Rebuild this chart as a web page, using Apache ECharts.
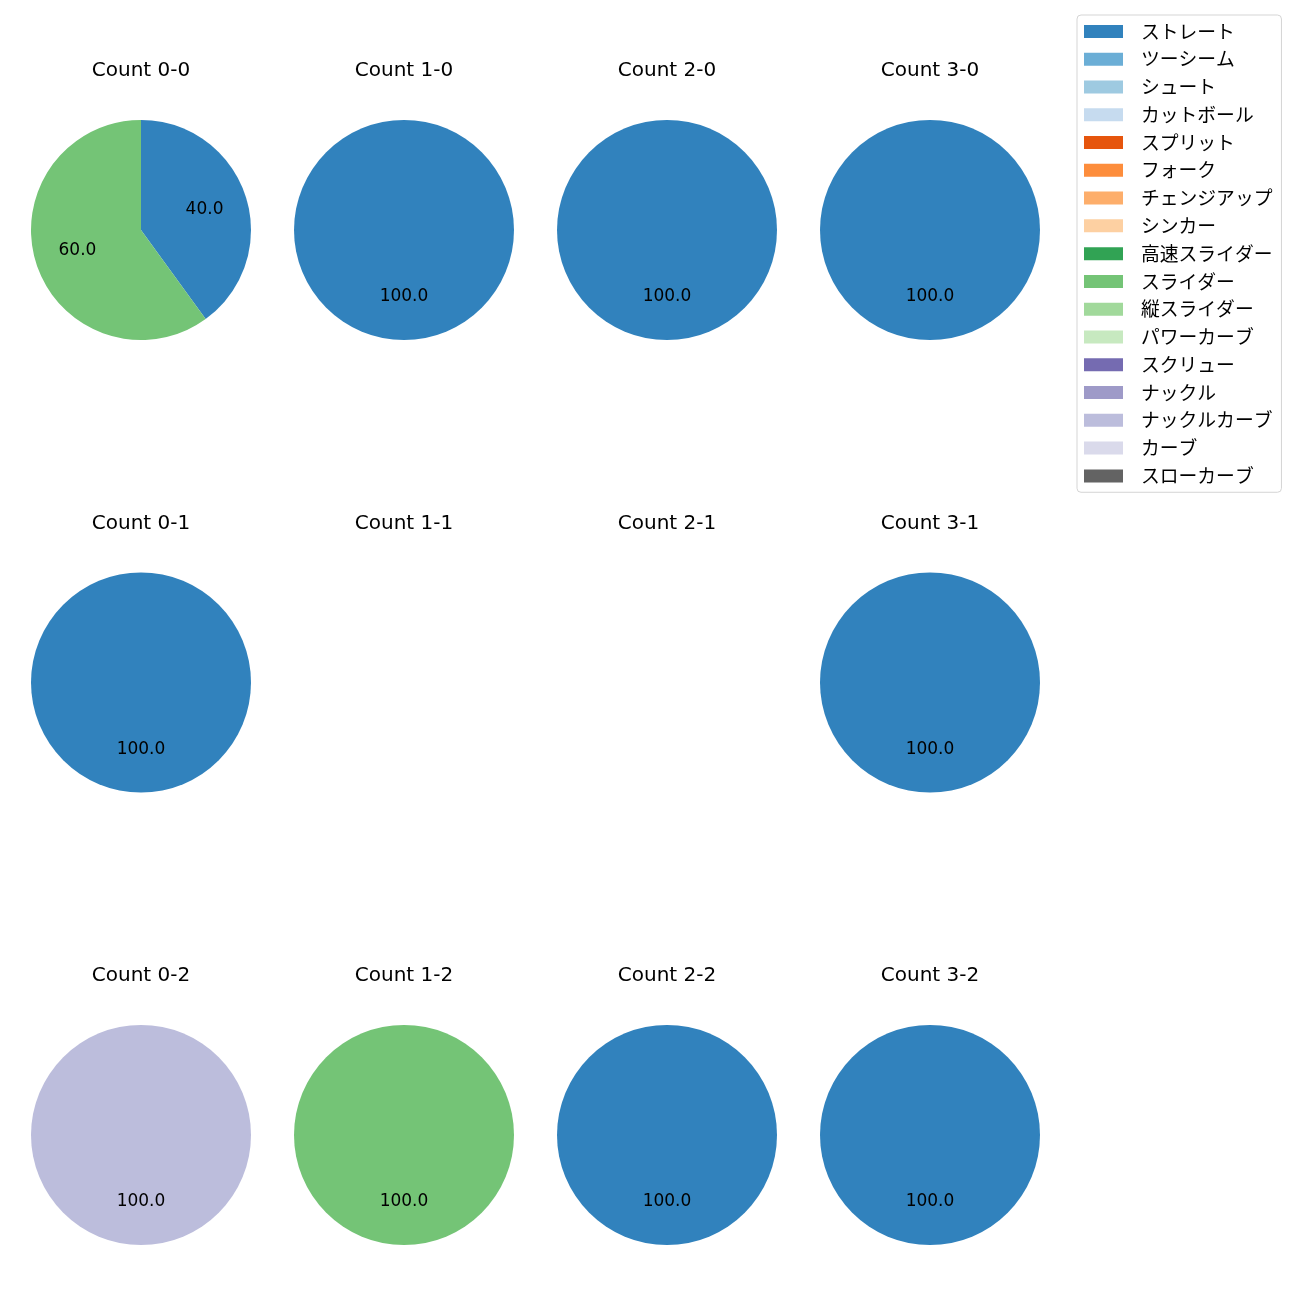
<!DOCTYPE html>
<html><head><meta charset="utf-8">
<script src="https://cdn.jsdelivr.net/npm/echarts@6/dist/echarts.min.js"></script>
<style>html,body{margin:0;padding:0;background:#fff}#c{width:1300px;height:1300px}</style>
</head><body><div id="c"></div>
<script>
const pitchTypes = ['ストレート','ツーシーム','シュート','カットボール','スプリット','フォーク','チェンジアップ','シンカー','高速スライダー','スライダー','縦スライダー','パワーカーブ','スクリュー','ナックル','ナックルカーブ','カーブ','スローカーブ'];
const pitchColors = ['#3182bd','#6baed6','#9ecae1','#c6dbef','#e6550d','#fd8d3c','#fdae6b','#fdd0a2','#31a354','#74c476','#a1d99b','#c7e9c0','#756bb1','#9e9ac8','#bcbddc','#dadaeb','#636363'];
const countTitles = ['Count 0-0','Count 1-0','Count 2-0','Count 3-0','Count 0-1','Count 1-1','Count 2-1','Count 3-1','Count 0-2','Count 1-2','Count 2-2','Count 3-2'];
const count00 = [['ストレート',40],['スライダー',60]];
const count10 = [['ストレート',100]];
const count20 = [['ストレート',100]];
const count30 = [['ストレート',100]];
const count01 = [['ストレート',100]];
const count11 = [];
const count21 = [];
const count31 = [['ストレート',100]];
const count02 = [['ナックルカーブ',100]];
const count12 = [['スライダー',100]];
const count22 = [['ストレート',100]];
const count32 = [['ストレート',100]];
const countData = [count00,count10,count20,count30,count01,count11,count21,count31,count02,count12,count22,count32];

const FONT = '"Noto Sans CJK JP","Noto Sans",sans-serif';
const LFONT = '"DejaVu Sans",sans-serif';
const colX = [141, 404, 667, 930];
const rowY = [230, 682.5, 1135];
const R = 110;
const colorOf = n => pitchColors[pitchTypes.indexOf(n)];

const series = [];
const graphic = [];
countData.forEach((d, i) => {
  const cx = colX[i % 4], cy = rowY[Math.floor(i / 4)];
  const data = d.map(([n, v]) => ({name: n, value: v, itemStyle: {color: colorOf(n)}}));
  graphic.push({type: 'text', x: cx, y: cy - 159, style: {text: countTitles[i], fill: '#000', font: '20px ' + LFONT, textAlign: 'center', textVerticalAlign: 'middle'}, silent: true});
  if (!data.length) return;
  series.push({type: 'pie', center: [cx, cy], radius: [0, R], startAngle: 90, clockwise: true, animation: false,
    data: data, label: {show: false}, labelLine: {show: false}, emphasis: {disabled: true}, silent: true});
  const tot = d.reduce((s, x) => s + x[1], 0);
  series.push({type: 'pie', center: [cx, cy], radius: [0.16 * R, R], startAngle: 90, clockwise: true, animation: false,
    legendHoverLink: false,
    data: d.map(([n, v]) => ({name: n, value: v, itemStyle: {color: 'rgba(0,0,0,0)'}})),
    label: {show: true, position: 'inside', color: '#000', fontSize: 17, fontFamily: LFONT,
      formatter: p => (p.value / tot * 100).toFixed(1)},
    labelLine: {show: false}, emphasis: {disabled: true}, silent: true});
});
// legend source: invisible zero-radius pie holding all categories
series.push({type: 'pie', center: [0, 0], radius: [0, 0], silent: true, animation: false,
  label: {show: false}, labelLine: {show: false},
  data: pitchTypes.map(n => ({name: n, value: 1, itemStyle: {color: colorOf(n)}}))});

const chart = echarts.init(document.getElementById('c'), null, {renderer: 'canvas'});
chart.setOption({
  backgroundColor: '#fff',
  animation: false,
  legend: {
    data: pitchTypes, orient: 'vertical', left: 1077, top: 15,
    itemWidth: 39, itemHeight: 13, itemGap: 9, icon: 'rect',
    padding: [7, 9, 7, 7],
    borderColor: '#d5d5d5', borderWidth: 1, borderRadius: 4,
    selectedMode: false,
    textStyle: {fontSize: 18.8, fontFamily: FONT, color: '#000', lineHeight: 18, padding: [0, 0, 0, 13]}
  },
  graphic: graphic,
  series: series
});
</script></body></html>
